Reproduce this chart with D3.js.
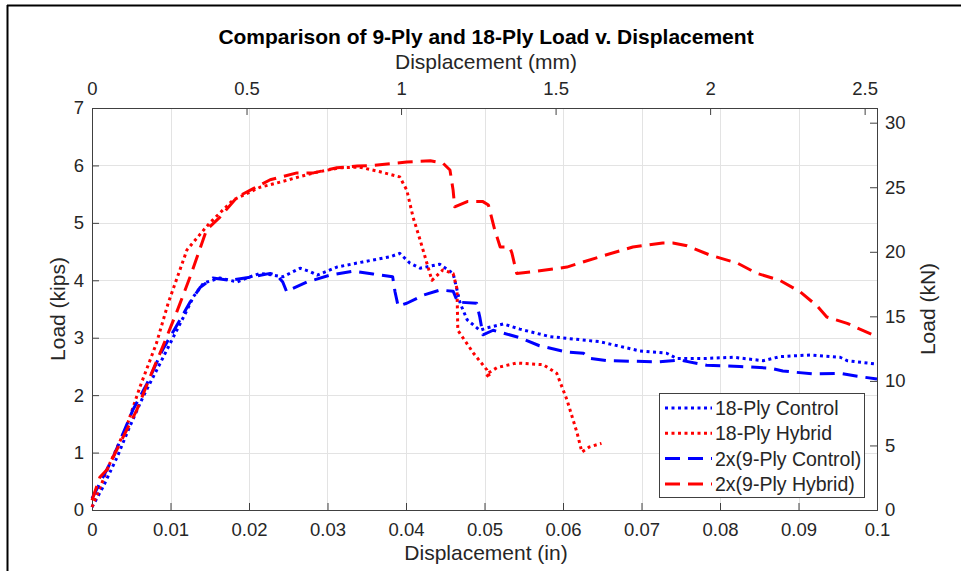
<!DOCTYPE html>
<html>
<head>
<meta charset="utf-8">
<script src="https://cdn.jsdelivr.net/npm/d3@7"></script>
<style>
  body { margin: 0; background: #fff; }
  text { font-family: "Liberation Sans", Arial, sans-serif; fill: #262626; }
</style>
</head>
<body>
<svg id="chart" width="961" height="571"></svg>
<script>
// data: [displacement (in), load (kips)]
const ctrl18 = [[0,0.05],[0.0014,0.4],[0.0032,0.92],[0.0048,1.45],[0.0065,1.97],[0.0087,2.56],
  [0.0108,3.13],[0.0121,3.48],[0.0129,3.71],[0.0142,3.95],[0.0163,4.04],[0.0185,3.97],[0.0197,4.04],
  [0.0214,4.12],[0.0231,4.09],[0.0243,4.06],[0.0265,4.21],[0.0278,4.15],[0.0287,4.09],[0.0312,4.23],
  [0.0345,4.32],[0.038,4.41],[0.0392,4.47],[0.0405,4.3],[0.0418,4.21],[0.0443,4.28],[0.046,4.12],
  [0.0469,3.6],[0.0478,3.31],[0.0494,3.13],[0.0503,3.17],[0.0524,3.24],[0.0545,3.15],[0.0583,3.02],
  [0.0647,2.93],[0.0698,2.77],[0.0732,2.73],[0.0745,2.64],[0.0783,2.64],[0.0817,2.66],[0.0855,2.6],
  [0.0876,2.67],[0.0915,2.7],[0.0953,2.66],[0.0962,2.6],[0.1,2.54]];

const hyb18 = [[0,0.05],[0.0023,0.82],[0.0044,1.45],[0.0061,2.14],[0.0082,2.9],[0.0097,3.6],
  [0.0121,4.53],[0.015,5.0],[0.018,5.4],[0.0214,5.62],[0.024,5.71],[0.0282,5.87],[0.0316,5.96],
  [0.0341,5.97],[0.0367,5.89],[0.0392,5.8],[0.0401,5.57],[0.0409,5.1],[0.0418,4.7],[0.0433,4.0],
  [0.0447,4.18],[0.046,4.12],[0.0465,3.85],[0.0466,3.13],[0.0486,2.73],[0.0503,2.44],[0.0507,2.3],
  [0.0502,2.36],[0.0516,2.48],[0.0541,2.56],[0.0575,2.53],[0.0592,2.38],[0.0605,1.92],[0.0618,1.34],
  [0.0624,1.01],[0.0634,1.1],[0.0649,1.16]];

const ctrl9x2 = [[0,0.2],[0.0027,0.92],[0.0052,1.74],[0.007,2.2],[0.009,2.79],[0.0112,3.31],
  [0.0125,3.62],[0.0138,3.88],[0.0154,4.04],[0.0176,4.0],[0.0205,4.06],[0.0227,4.12],[0.0236,4.08],
  [0.0243,3.97],[0.0248,3.8],[0.0256,3.86],[0.0274,3.97],[0.0303,4.09],[0.0333,4.16],[0.0358,4.11],
  [0.0383,4.06],[0.0386,3.8],[0.039,3.55],[0.0401,3.6],[0.0422,3.74],[0.0443,3.83],[0.046,3.81],
  [0.0466,3.62],[0.049,3.6],[0.0494,3.36],[0.0498,3.05],[0.0511,3.13],[0.0524,3.08],[0.0545,3.0],
  [0.057,2.86],[0.0605,2.75],[0.0626,2.73],[0.0634,2.64],[0.0656,2.6],[0.072,2.58],[0.0749,2.61],
  [0.0783,2.52],[0.0825,2.5],[0.0864,2.47],[0.088,2.42],[0.0918,2.37],[0.0953,2.38],[0.0975,2.33],
  [0.1,2.28]];

const hyb9x2 = [[0,0.17],[0.001,0.57],[0.0019,0.7],[0.0036,1.17],[0.0057,1.74],[0.0074,2.32],
  [0.009,2.84],[0.0108,3.45],[0.0125,4.06],[0.0146,4.88],[0.0163,5.1],[0.0185,5.45],[0.0206,5.6],
  [0.0227,5.75],[0.0261,5.87],[0.0282,5.87],[0.0312,5.96],[0.0338,5.99],[0.0358,6.0],[0.0401,6.06],
  [0.0431,6.08],[0.0447,6.04],[0.0456,5.92],[0.046,5.57],[0.0462,5.28],[0.0478,5.37],[0.0498,5.37],
  [0.0505,5.31],[0.0513,4.88],[0.052,4.58],[0.0532,4.58],[0.0535,4.47],[0.0541,4.12],[0.0562,4.15],
  [0.0605,4.23],[0.0647,4.41],[0.0689,4.58],[0.0727,4.65],[0.074,4.65],[0.0758,4.6],[0.0787,4.44],
  [0.0822,4.3],[0.0847,4.12],[0.0876,4.0],[0.0902,3.8],[0.0924,3.55],[0.0936,3.36],[0.0962,3.25],
  [0.0975,3.17],[0.1,3.02]];

const seriesNames = ['18-Ply Control', '18-Ply Hybrid', '2x(9-Ply Control)', '2x(9-Ply Hybrid)'];
const xTicksIn = [0, 0.01, 0.02, 0.03, 0.04, 0.05, 0.06, 0.07, 0.08, 0.09, 0.1];
const xTicksMm = [0, 0.5, 1, 1.5, 2, 2.5];
const yTicksKips = [0, 1, 2, 3, 4, 5, 6, 7];
const yTicksKN = [0, 5, 10, 15, 20, 25, 30];

const series = [
  {name: seriesNames[0], data: ctrl18, color: '#0000ff', dash: '3,3.5'},
  {name: seriesNames[1], data: hyb18, color: '#ff0000', dash: '3,3.5'},
  {name: seriesNames[2], data: ctrl9x2, color: '#0000ff', dash: '15,8'},
  {name: seriesNames[3], data: hyb9x2, color: '#ff0000', dash: '15,8'}
];

const svg = d3.select('#chart');
const box = {left: 92, right: 877, top: 108, bottom: 510};
const axisColor = '#404040';
const plain = d3.format('');

const x = d3.scaleLinear().domain([0, 0.1]).range([box.left, box.right]);
const xMm = d3.scaleLinear().domain([0, 2.54]).range([box.left, box.right]);
const y = d3.scaleLinear().domain([0, 7]).range([box.bottom, box.top]);
const yKN = d3.scaleLinear().domain([0, 7 * 4.44822]).range([box.bottom, box.top]);

// outer frame (left + top edges only, as in the capture)
svg.append('line').attr('x1', 7.5).attr('x2', 7.5).attr('y1', 5).attr('y2', 571)
  .attr('stroke', '#000').attr('stroke-width', 2);
svg.append('line').attr('x1', 7).attr('x2', 961).attr('y1', 5.5).attr('y2', 5.5)
  .attr('stroke', '#000').attr('stroke-width', 2);

// grid
const grid = svg.append('g').attr('stroke', '#e3e3e3').attr('stroke-width', 1);
grid.selectAll('.gx').data(xTicksIn.slice(1, -1)).enter().append('line')
  .attr('x1', d => Math.round(x(d)) + 0.5).attr('x2', d => Math.round(x(d)) + 0.5)
  .attr('y1', box.top).attr('y2', box.bottom);
grid.selectAll('.gy').data(yTicksKips.slice(1, -1)).enter().append('line')
  .attr('y1', d => Math.round(y(d)) + 0.5).attr('y2', d => Math.round(y(d)) + 0.5)
  .attr('x1', box.left).attr('x2', box.right);

// axes: ticks point inward like MATLAB
function styleAxis(g) {
  g.select('.domain').remove();
  g.selectAll('.tick line').attr('stroke', axisColor);
  g.selectAll('.tick text').attr('fill', '#262626')
    .style('font-family', '"Liberation Sans", Arial, sans-serif').style('font-size', '18.5px');
}
svg.append('g').attr('transform', `translate(0,${box.bottom})`)
  .call(d3.axisBottom(x).tickValues(xTicksIn).tickFormat(plain).tickSizeInner(-7).tickPadding(13))
  .call(styleAxis);
svg.append('g').attr('transform', `translate(0,${box.top})`)
  .call(d3.axisTop(xMm).tickValues(xTicksMm).tickFormat(plain).tickSizeInner(-7).tickPadding(13))
  .call(styleAxis);
svg.append('g').attr('transform', `translate(${box.left},0)`)
  .call(d3.axisLeft(y).tickValues(yTicksKips).tickFormat(plain).tickSizeInner(-7).tickPadding(8))
  .call(styleAxis);
svg.append('g').attr('transform', `translate(${box.right},0)`)
  .call(d3.axisRight(yKN).tickValues(yTicksKN).tickFormat(plain).tickSizeInner(-7).tickPadding(8))
  .call(styleAxis);

// plot box
svg.append('rect').attr('x', box.left + 0.5).attr('y', box.top + 0.5)
  .attr('width', box.right - box.left).attr('height', box.bottom - box.top)
  .attr('fill', 'none').attr('stroke', axisColor).attr('stroke-width', 1);

// curves
const line = d3.line().x(d => x(d[0])).y(d => y(d[1]));
svg.append('g').selectAll('path').data(series).enter().append('path')
  .attr('d', d => line(d.data))
  .attr('fill', 'none').attr('stroke', d => d.color).attr('stroke-width', 3)
  .attr('stroke-dasharray', d => d.dash).attr('stroke-linejoin', 'round');

// labels
svg.append('text').attr('x', 486).attr('y', 44).attr('text-anchor', 'middle')
  .style('font-size', '21px').style('font-weight', 'bold').style('fill', '#000')
  .text('Comparison of 9-Ply and 18-Ply Load v. Displacement');
svg.append('text').attr('x', 486).attr('y', 69).attr('text-anchor', 'middle')
  .style('font-size', '21px').text('Displacement (mm)');
svg.append('text').attr('x', 486).attr('y', 560).attr('text-anchor', 'middle')
  .style('font-size', '21px').text('Displacement (in)');
svg.append('text').attr('transform', 'translate(65,309) rotate(-90)').attr('text-anchor', 'middle')
  .style('font-size', '21px').text('Load (kips)');
svg.append('text').attr('transform', 'translate(935,309) rotate(-90)').attr('text-anchor', 'middle')
  .style('font-size', '21px').text('Load (kN)');

// legend
const leg = svg.append('g');
leg.append('rect').attr('x', 659.5).attr('y', 393.5).attr('width', 205).attr('height', 104)
  .attr('fill', '#fff').attr('stroke', axisColor).attr('stroke-width', 1);
const rows = leg.selectAll('.row').data(series).enter().append('g')
  .attr('transform', (d, i) => `translate(0,${408 + i * 25.3})`);
rows.append('line').attr('x1', 665).attr('x2', 712).attr('y1', 0).attr('y2', 0)
  .attr('stroke', d => d.color).attr('stroke-width', 3).attr('stroke-dasharray', d => d.dash);
rows.append('text').attr('x', 715).attr('y', 7).style('font-size', '19.5px').text(d => d.name);
</script>
</body>
</html>
